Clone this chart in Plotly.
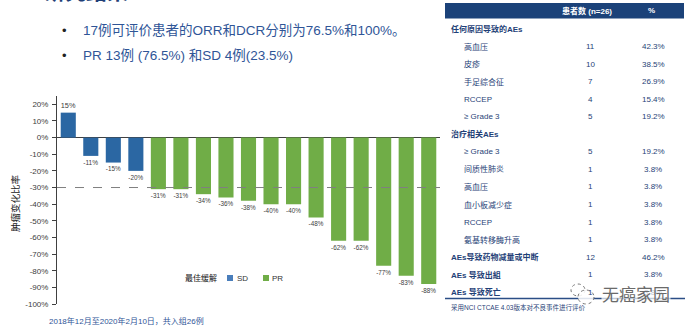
import plotly.graph_objects as go

# ---------------- data ----------------
patients = [f"P{i}" for i in range(1, 18)]
changes = [15, -11, -15, -20, -31, -31, -34, -36, -38, -40, -40, -48, -62, -62, -77, -83, -88]
responses = ["SD"] * 4 + ["PR"] * 13
y_ticks = [20, 10, 0, -10, -20, -30, -40, -50, -60, -70, -80, -90, -100]
threshold = -30

title_text = "研究结果"
bullets = ["17例可评价患者的ORR和DCR分别为76.5%和100%。", "PR 13例 (76.5%) 和SD 4例(23.5%)"]
footer_text = "2018年12月至2020年2月10日，共入组26例"
y_title = "肿瘤变化比率"
legend_title = "最佳缓解"

table_header = ["患者数 (n=26)", "%"]
table_labels = ["任何原因导致的AEs", "高血压", "皮疹", "手足综合征", "RCCEP", "≥ Grade 3",
                "治疗相关AEs", "≥ Grade 3", "间质性肺炎", "高血压", "血小板减少症", "RCCEP",
                "氨基转移酶升高", "AEs导致药物减量或中断", "AEs 导致出組", "AEs 导致死亡"]
table_counts = ["", "11", "10", "7", "4", "5", "", "5", "1", "1", "1", "1", "1", "12", "1", "1"]
table_pcts = ["", "42.3%", "38.5%", "26.9%", "15.4%", "19.2%", "", "19.2%", "3.8%", "3.8%",
              "3.8%", "3.8%", "3.8%", "46.2%", "3.8%", "3.8%"]
table_note = "采用NCI CTCAE 4.03版本对不良事件进行评价"
watermark = "无癌家园"

# ---------------- style ----------------
W, H = 693, 328
L, R, T, B = 57, 440, 96, 304
FONT = "Liberation Sans, Arial, Noto Sans CJK SC, sans-serif"
colors = {"SD": "#2B67A3", "PR": "#70AD47"}
swatch = {"SD": "#4A7EBB", "PR": "#70AD47"}
BLUE_TXT = "#2F5597"
TBL_TXT = "#1F3F77"
bold_rows = {0, 6, 13, 14, 15}


def px(x):
    return (x - L) / (R - L)


def py(y):
    return (B - y) / (B - T)


def note(x, y, text, size, color, xanchor="left", **kw):
    return dict(xref="paper", yref="paper", x=px(x), y=py(y), xanchor=xanchor, yanchor="middle",
                text=text, font=dict(size=size, color=color, family=FONT), showarrow=False, **kw)


fig = go.Figure()
for resp in ["SD", "PR"]:
    xs = [p for p, r in zip(patients, responses) if r == resp]
    ys = [c for c, r in zip(changes, responses) if r == resp]
    fig.add_trace(go.Bar(
        x=xs, y=ys, name=resp, marker=dict(color=colors[resp], line=dict(width=0)),
        text=[f"{v}%" for v in ys], textposition="outside", cliponaxis=False,
        textfont=dict(size=7.5, color="#404040", family=FONT), showlegend=False,
    ))

ann = []
ann.append(note(42, -9, f"<b>{title_text}</b>", 21, TBL_TXT))
for i, b in enumerate(bullets):
    yy = 30 + 25 * i
    ann.append(note(60, yy, "•", 13, "#222"))
    ann.append(note(81, yy, b, 13.5, BLUE_TXT))
ann.append(note(15, 203, y_title, 9.5, "#222", xanchor="center", textangle=-90))
ann.append(note(47, 321, footer_text, 8, BLUE_TXT))
ann.append(note(587, 10.5, f"<b>{table_header[0]}</b>", 8, "white", xanchor="center"))
ann.append(note(651, 10.5, f"<b>{table_header[1]}</b>", 8, "white", xanchor="center"))
for i, (lab, cnt, pct) in enumerate(zip(table_labels, table_counts, table_pcts)):
    yy = 29 + 17.55 * i
    isb = i in bold_rows
    ann.append(note(449 if isb else 462, yy, f"<b>{lab}</b>" if isb else lab, 8, TBL_TXT))
    if cnt:
        ann.append(note(590, yy, cnt, 8, TBL_TXT, xanchor="center"))
        ann.append(note(653, yy, pct, 8, TBL_TXT, xanchor="center"))
ann.append(note(449, 307, table_note, 6.5, TBL_TXT))
ann.append(note(601, 295, watermark, 17, "#6a6a6a", bgcolor="rgba(255,255,255,0.7)", borderpad=0))

# legend (manual)
ann.append(note(183, 278, legend_title, 8, "#111"))
ann.append(note(235, 278, "SD", 8, "#333"))
ann.append(note(270, 278, "PR", 8, "#333"))

shapes = [
    dict(type="line", xref="paper", yref="y", x0=0, x1=1, y0=threshold, y1=threshold,
         line=dict(color="#7f7f7f", width=1, dash="dash")),
    dict(type="rect", xref="paper", yref="paper", x0=px(445), x1=px(684), y0=py(3), y1=py(18.5),
         fillcolor="#1B4279", line=dict(width=0), layer="below"),
    dict(type="line", xref="paper", yref="paper", x0=px(445), x1=px(685), y0=py(298.5), y1=py(298.5),
         line=dict(color="#2B4E86", width=1.5)),
    dict(type="rect", xref="paper", yref="paper", x0=px(227), x1=px(233), y0=py(275), y1=py(281),
         fillcolor=swatch["SD"], line=dict(width=0)),
    dict(type="rect", xref="paper", yref="paper", x0=px(263), x1=px(269), y0=py(275), y1=py(281),
         fillcolor=swatch["PR"], line=dict(width=0)),
    # watermark icon
    dict(type="circle", xref="paper", yref="paper", x0=px(571), x1=px(585), y0=py(296), y1=py(284),
         fillcolor="rgba(255,255,255,0.85)", line=dict(color="#777", width=1, dash="dot")),
    dict(type="circle", xref="paper", yref="paper", x0=px(578), x1=px(594), y0=py(304), y1=py(290),
         fillcolor="rgba(255,255,255,0.85)", line=dict(color="#777", width=1, dash="dot")),
]

fig.update_layout(
    width=W, height=H, margin=dict(l=L, r=W - R, t=T, b=H - B),
    paper_bgcolor="white", plot_bgcolor="white",
    barmode="relative", bargap=0.33,
    font=dict(family=FONT, color="#404040"),
    annotations=ann, shapes=shapes,
    showlegend=False,
    xaxis=dict(range=[-0.5, len(patients) - 0.5], showticklabels=False, showgrid=False,
               zeroline=False, showline=False, ticks=""),
    yaxis=dict(range=[-100, 25], tickvals=y_ticks, ticktext=[f"{v}%" for v in y_ticks],
               showgrid=False, zeroline=True, zerolinecolor="#404040", zerolinewidth=1,
               showline=True, linecolor="#404040", linewidth=1, ticks="outside", ticklen=4,
               tickcolor="#404040", tickfont=dict(size=8, color="#404040"), ticklabelstandoff=2),
)

fig.write_html("out.html")
